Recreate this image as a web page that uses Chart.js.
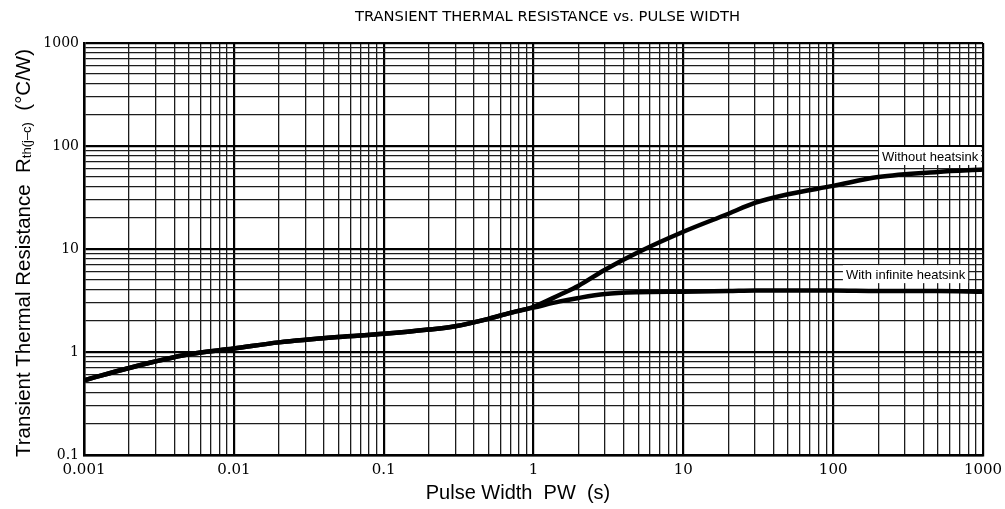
<!DOCTYPE html>
<html><head><meta charset="utf-8">
<script src="https://cdn.jsdelivr.net/npm/chart.js@4"></script>
<style>html,body{margin:0;padding:0;background:#fff}#wrap{width:1005px;height:509px;position:relative}</style>
</head><body><div id="wrap"><canvas id="c"></canvas></div>
<script>
// ---- data ----
const pulseWidth =           [0.001, 0.002, 0.005, 0.01, 0.02, 0.05, 0.1, 0.2, 0.3, 0.5, 0.7, 1, 1.5, 2, 3, 5, 10, 20, 30, 50, 100, 200, 500, 1000];
const withoutHeatsink =      [0.53, 0.70, 0.95, 1.08, 1.24, 1.40, 1.50, 1.65, 1.78, 2.10, 2.40, 2.75, 3.6, 4.4, 6.3, 9.3, 14.7, 22, 28, 34, 41, 50, 56, 59];
const withInfiniteHeatsink = [0.53, 0.70, 0.95, 1.08, 1.24, 1.40, 1.50, 1.65, 1.78, 2.10, 2.40, 2.70, 3.1, 3.35, 3.65, 3.8, 3.85, 3.9, 3.95, 3.95, 3.95, 3.9, 3.9, 3.85];
const seriesLabels = ['Without heatsink', 'With infinite heatsink'];

const xDecades = [0.001, 0.01, 0.1, 1, 10, 100, 1000];
const xTickLabels = ['0.001', '0.01', '0.1', '1', '10', '100', '1000'];
const yDecades = [0.1, 1, 10, 100, 1000];
const yTickLabels = ['0.1', '1', '10', '100', '1000'];
const minorSteps = [2, 3, 4, 5, 6, 7, 8, 9];

const chartTitle = 'TRANSIENT THERMAL RESISTANCE vs. PULSE WIDTH';
const xTitle = 'Pulse Width  PW  (s)';
const yTitleParts = ['Transient Thermal Resistance  R', 'th(j\u2013c)', '  (\u00B0C/W)'];

// ---- helpers ----
function gridTicks(decades) {
  const t = [];
  decades.forEach((d, i) => {
    t.push(d);
    if (i < decades.length - 1) minorSteps.forEach(m => t.push(+(d * m).toPrecision(6)));
  });
  return t.map(v => ({ value: v }));
}
function decadeIndex(decades, v) {
  return decades.findIndex(d => Math.abs(d - v) / d < 1e-6);
}
const serif = '"DejaVu Serif", "Liberation Serif", serif';
const sans = '"Liberation Sans", Arial, sans-serif';

function makeData(ys) { return pulseWidth.map((x, i) => ({ x: x, y: ys[i] })); }

const overlay = {
  id: 'overlay',
  afterDatasetsDraw(chart) {
    const { ctx, scales: { x, y } } = chart;
    const anchors = [{ x: 929, y: 80 }, { x: 760, y: 5.7 }];
    ctx.save();
    ctx.font = '13px ' + sans;
    ctx.textBaseline = 'middle';
    ctx.textAlign = 'right';
    seriesLabels.forEach((lab, i) => {
      const px = x.getPixelForValue(anchors[i].x);
      const py = y.getPixelForValue(anchors[i].y);
      const w = ctx.measureText(lab).width;
      ctx.fillStyle = '#fff';
      ctx.fillRect(px - w - 3, py - 9, w + 6, 18);
      ctx.fillStyle = '#000';
      ctx.fillText(lab, px, py + 1);
    });
    ctx.restore();
  },
  afterDraw(chart) {
    const { ctx } = chart;
    ctx.save();
    // main title, stretched to the reference width
    ctx.font = '14px "DejaVu Sans Condensed", "Liberation Sans Narrow", ' + sans;
    ctx.fillStyle = '#000';
    ctx.textBaseline = 'alphabetic';
    ctx.textAlign = 'left';
    const tw = ctx.measureText(chartTitle).width;
    ctx.translate(355, 21);
    ctx.scale(385 / tw, 1);
    ctx.fillText(chartTitle, 0, 0);
    ctx.restore();

    // x axis title
    ctx.save();
    ctx.fillStyle = '#000';
    ctx.font = '20px ' + sans;
    ctx.textAlign = 'center';
    ctx.textBaseline = 'alphabetic';
    ctx.fillText(xTitle, 518, 499);
    ctx.restore();

    // y axis title with subscript
    ctx.save();
    ctx.fillStyle = '#000';
    const big = '20.5px ' + sans, small = '13px ' + sans;
    ctx.font = big; const w1 = ctx.measureText(yTitleParts[0]).width;
    ctx.font = small; const w2 = ctx.measureText(yTitleParts[1]).width;
    ctx.font = big; const w3 = ctx.measureText(yTitleParts[2]).width;
    const total = w1 + w2 + w3;
    ctx.translate(30, 253);
    ctx.rotate(-Math.PI / 2);
    ctx.textAlign = 'left';
    ctx.textBaseline = 'alphabetic';
    let sx = -total / 2;
    ctx.font = big; ctx.fillText(yTitleParts[0], sx, 0); sx += w1;
    ctx.font = small; ctx.fillText(yTitleParts[1], sx, 1); sx += w2;
    ctx.font = big; ctx.fillText(yTitleParts[2], sx, 0);
    ctx.restore();
  }
};

const lineStyle = { borderColor: '#000', borderWidth: 4.5, pointRadius: 0, fill: false, cubicInterpolationMode: 'monotone' };

new Chart(document.getElementById('c'), {
  type: 'line',
  data: {
    datasets: [
      Object.assign({ label: seriesLabels[0], data: makeData(withoutHeatsink) }, lineStyle),
      Object.assign({ label: seriesLabels[1], data: makeData(withInfiniteHeatsink) }, lineStyle)
    ]
  },
  options: {
    responsive: true,
    maintainAspectRatio: false,
    animation: false,
    events: [],
    layout: { padding: { top: 43, right: 22, left: 0, bottom: 0 } },
    plugins: { legend: { display: false }, title: { display: false }, tooltip: { enabled: false } },
    scales: {
      x: {
        type: 'logarithmic',
        min: 0.001, max: 1000,
        afterBuildTicks: s => { s.ticks = gridTicks(xDecades); },
        afterFit: s => { s.height = 54; s.paddingLeft = 0; s.paddingRight = 0; },
        ticks: {
          autoSkip: false, maxRotation: 0, padding: 6,
          color: '#000', font: { family: serif, size: 15 },
          callback: v => { const i = decadeIndex(xDecades, v); return i >= 0 ? xTickLabels[i] : ''; }
        },
        grid: {
          drawTicks: false,
          color: c => decadeIndex(xDecades, c.tick.value) >= 0 ? '#000' : '#1c1c1c',
          lineWidth: c => decadeIndex(xDecades, c.tick.value) >= 0 ? 2.2 : 1.3
        },
        border: { display: true, color: '#000', width: 2.5 },
        title: { display: false }
      },
      y: {
        type: 'logarithmic',
        min: 0.1, max: 1000,
        afterBuildTicks: s => { s.ticks = gridTicks(yDecades); },
        afterFit: s => { s.width = 84; s.paddingTop = 0; s.paddingBottom = 0; },
        ticks: {
          autoSkip: false, padding: 5,
          color: '#000', font: { family: serif, size: 14 },
          callback: v => { const i = decadeIndex(yDecades, v); return i >= 0 ? yTickLabels[i] : ''; }
        },
        grid: {
          drawTicks: false,
          color: c => decadeIndex(yDecades, c.tick.value) >= 0 ? '#000' : '#1c1c1c',
          lineWidth: c => decadeIndex(yDecades, c.tick.value) >= 0 ? 2.2 : 1.3
        },
        border: { display: true, color: '#000', width: 2.5 },
        title: { display: false }
      }
    }
  },
  plugins: [overlay]
});
</script></body></html>
